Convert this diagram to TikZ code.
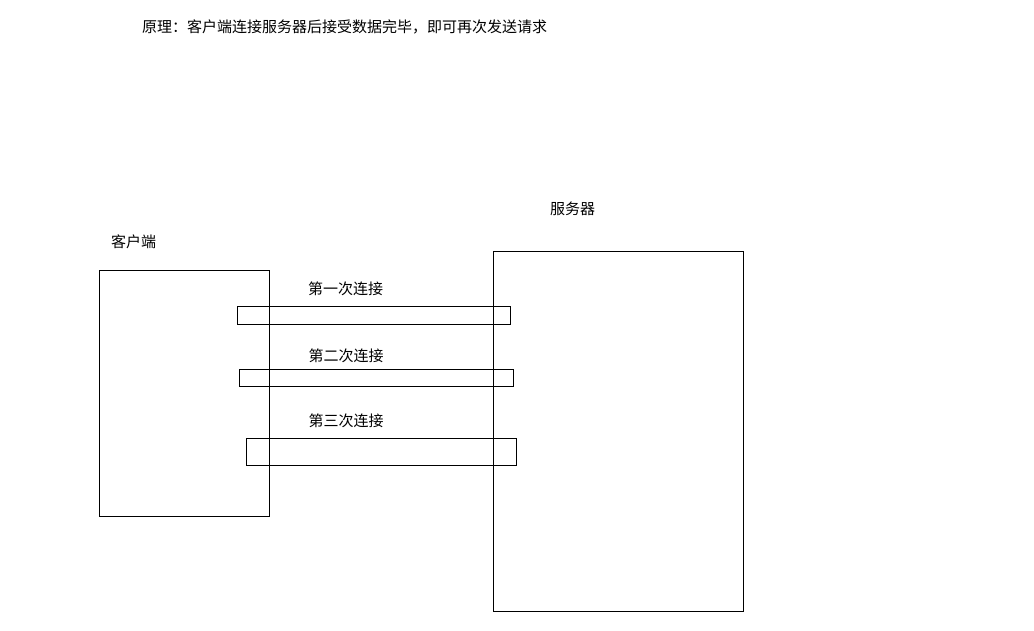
\documentclass[tikz,border=0pt]{standalone}
\usepackage{fontspec}
\newfontfamily\cjk{Noto Sans CJK SC}
\begin{document}
\begin{tikzpicture}[x=1pt,y=-1pt,
  box/.style={draw=black,line width=1pt,fill=none},
  lbl/.style={font=\cjk\fontsize{15}{18}\selectfont,inner sep=0pt}]
\useasboundingbox[fill=white] (0,0) rectangle (1034,630);
\node[lbl,anchor=west] (title) at (142,27) {原理：客户端连接服务器后接受数据完毕，即可再次发送请求};
\draw[box] (99,270) rectangle (269,516);
\coordinate (client) at (184,393);
\draw[box] (493,251) rectangle (743,611);
\coordinate (server) at (618,431);
\node[lbl] (clientlbl) at (133.5,242) {客户端};
\node[lbl] (serverlbl) at (572.5,209) {服务器};
\draw[box] (237,306) rectangle (510,324);
\draw[box] (239,369) rectangle (513,386);
\draw[box] (246,438) rectangle (516,465);
\node[lbl] (c1) at (345.5,289) {第一次连接};
\node[lbl] (c2) at (346,356) {第二次连接};
\node[lbl] (c3) at (346,421) {第三次连接};
\end{tikzpicture}
\end{document}
